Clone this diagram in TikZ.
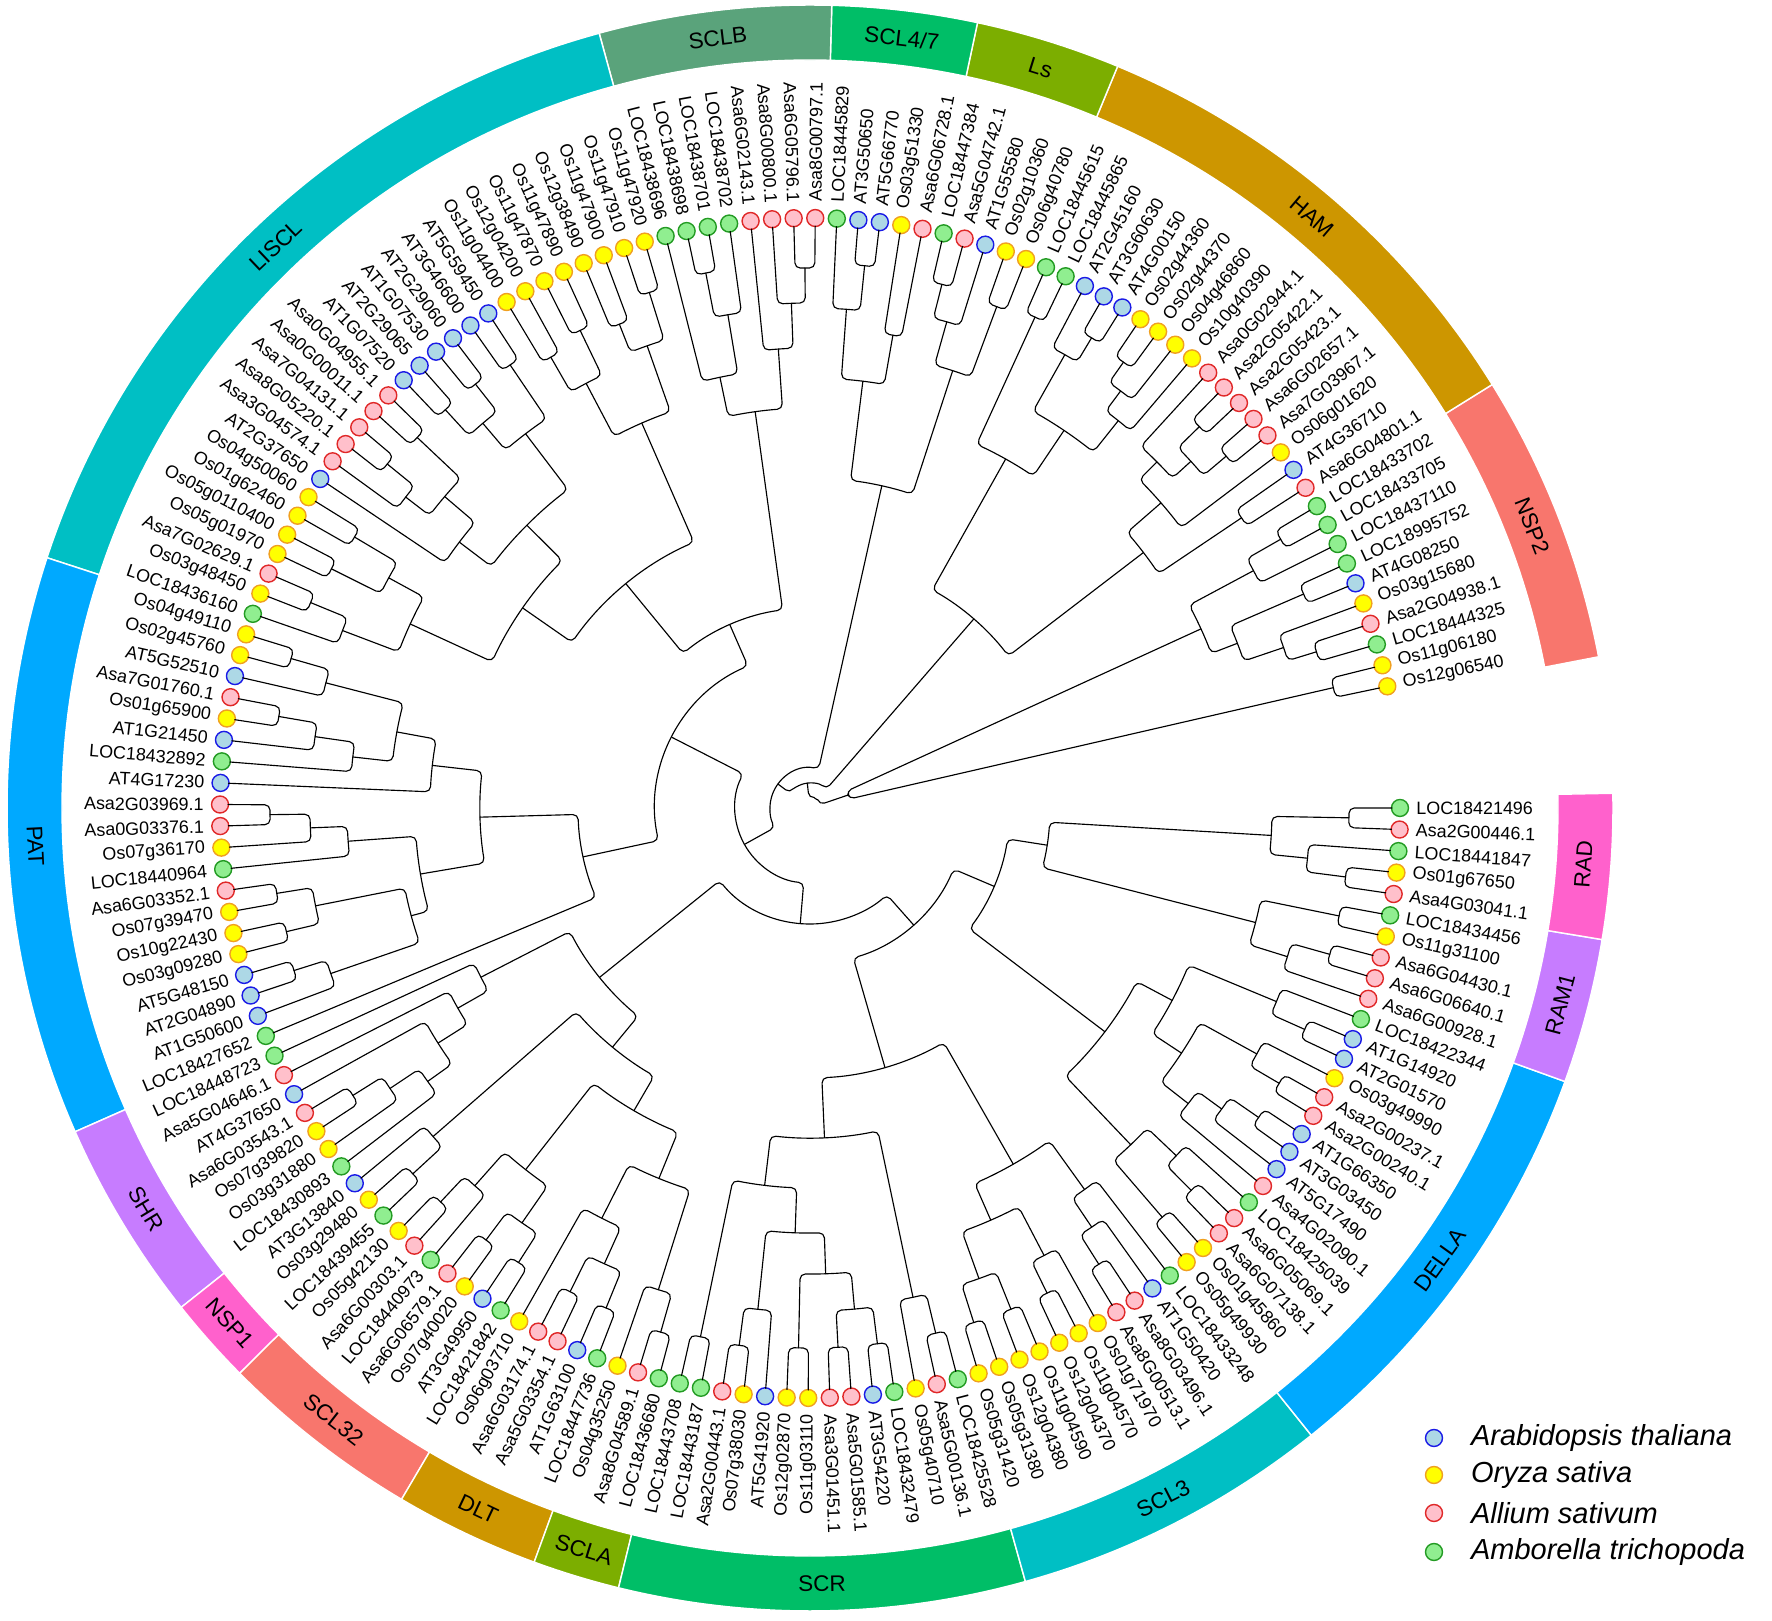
\documentclass[tikz,border=0pt]{standalone}
\usepackage{fontspec}
\setmainfont{Liberation Sans}
\usetikzlibrary{positioning}
\definecolor{athfill}{HTML}{ADD8E6}
\definecolor{athline}{HTML}{1A1AE6}
\definecolor{osafill}{HTML}{FFFF00}
\definecolor{osaline}{HTML}{F0A020}
\definecolor{asafill}{HTML}{FFC0CB}
\definecolor{asaline}{HTML}{E02828}
\definecolor{amtfill}{HTML}{90EE90}
\definecolor{amtline}{HTML}{239B23}
\definecolor{cRed}{HTML}{F8766D}
\definecolor{cGold}{HTML}{CD9600}
\definecolor{cLime}{HTML}{7CAE00}
\definecolor{cGreen}{HTML}{00BE67}
\definecolor{cSage}{HTML}{5AA37B}
\definecolor{cTeal}{HTML}{00BFC4}
\definecolor{cBlue}{HTML}{00A9FF}
\definecolor{cViolet}{HTML}{C77CFF}
\definecolor{cPink}{HTML}{FF61CC}
% join two children (name, child a, child b, radius)
\newcommand\tj[4]{%
  \pgfmathsetmacro\tja{\csname tA#2\endcsname}%
  \pgfmathsetmacro\tjb{\csname tA#3\endcsname}%
  \pgfmathsetmacro\tjra{\csname tR#2\endcsname}%
  \pgfmathsetmacro\tjrb{\csname tR#3\endcsname}%
  \pgfmathsetmacro\tjr{#4*0.02}%
  \draw[branch] (\tja:\tjra) -- (\tja:#4) arc[start angle=\tja, end angle=\tjb, radius=\tjr cm] -- (\tjb:\tjrb);%
  \pgfmathsetmacro\tjm{(\tja+\tjb)/2}%
  \expandafter\xdef\csname tA#1\endcsname{\tjm}%
  \expandafter\xdef\csname tR#1\endcsname{#4}}
% ring sector (first leaf, last leaf, colour, name, text)
\newcommand\band[5]{%
  \pgfmathsetmacro\ba{11.9+(#1-1.5)*2.097}%
  \pgfmathsetmacro\bb{11.9+(#2-0.5)*2.097}%
  \pgfmathsetmacro\bm{(\ba+\bb)/2}%
  \pgfmathsetmacro\brot{\bm<180 ? \bm-90 : \bm+90}%
  \fill[#3, draw=white, line width=0.8pt] (\ba:748) arc[start angle=\ba, end angle=\bb, radius=14.96cm]
    -- (\bb:803) arc[start angle=\bb, end angle=\ba, radius=16.06cm] -- cycle;%
  \node[bandtext, rotate=\brot] (#4) at (\bm:775.5) {#5};}
\begin{document}
\begin{tikzpicture}[x=0.02cm, y=0.02cm, line join=round, line cap=round,
    branch/.style={line width=0.65pt, rounded corners=3pt},
    leafdot/.style={circle, line width=0.8pt, minimum size=0.34cm, inner sep=0pt},
    ath/.style={fill=athfill, draw=athline},
    osa/.style={fill=osafill, draw=osaline},
    asa/.style={fill=asafill, draw=asaline},
    amt/.style={fill=amtfill, draw=amtline},
    leaftext/.style={inner sep=0pt, font=\fontsize{10.2}{12}\selectfont},
    bandtext/.style={inner sep=0pt, font=\fontsize{12.8}{15}\selectfont},
    legendtext/.style={inner sep=0pt, font=\fontsize{16.5}{20}\selectfont\itshape}]
\useasboundingbox (-810,-813) rectangle (962,808);

\band{1}{10}{cRed}{bNSPtwo}{NSP2}
\band{11}{27}{cGold}{bHAM}{HAM}
\band{28}{32}{cLime}{bLs}{Ls}
\band{33}{37}{cGreen}{bSCLfs}{SCL4/7}
\band{38}{45}{cSage}{bSCLB}{SCLB}
\band{46}{72}{cTeal}{bLISCL}{LISCL}
\band{73}{92}{cBlue}{bPAT}{PAT}
\band{93}{99}{cViolet}{bSHR}{SHR}
\band{100}{102}{cPink}{bNSPone}{NSP1}
\band{103}{109}{cRed}{bSCLtt}{SCL32}
\band{110}{114}{cGold}{bDLT}{DLT}
\band{115}{117}{cLime}{bSCLA}{SCLA}
\band{118}{131}{cGreen}{bSCR}{SCR}
\band{132}{142}{cTeal}{bSCLthree}{SCL3}
\band{143}{157}{cBlue}{bDELLA}{DELLA}
\band{158}{162}{cViolet}{bRAMone}{RAM1}
\band{163}{167}{cPink}{bRAD}{RAD}

\foreach \nm/\sp [count=\i] in {Os12g06540/osa, Os11g06180/osa, LOC18444325/amt, Asa2G04938.1/asa,
  Os03g15680/osa, AT4G08250/ath, LOC18995752/amt, LOC18437110/amt, LOC18433705/amt, LOC18433702/amt,
  Asa6G04801.1/asa, AT4G36710/ath, Os06g01620/osa, Asa7G03967.1/asa, Asa6G02657.1/asa, Asa2G05423.1/asa,
  Asa2G05422.1/asa, Asa0G02944.1/asa, Os10g40390/osa, Os04g46860/osa, Os02g44370/osa, Os02g44360/osa,
  AT4G00150/ath, AT3G60630/ath, AT2G45160/ath, LOC18445865/amt, LOC18445615/amt, Os06g40780/osa,
  Os02g10360/osa, AT1G55580/ath, Asa5G04742.1/asa, LOC18447384/amt, Asa6G06728.1/asa, Os03g51330/osa,
  AT5G66770/ath, AT3G50650/ath, LOC18445829/amt, Asa8G00797.1/asa, Asa6G05796.1/asa, Asa8G00800.1/asa,
  Asa6G02143.1/asa, LOC18438702/amt, LOC18438701/amt, LOC18438698/amt, LOC18438696/amt, Os11g47920/osa,
  Os11g47910/osa, Os11g47900/osa, Os12g38490/osa, Os11g47890/osa, Os11g47870/osa, Os12g04200/osa,
  Os11g04400/osa, AT5G59450/ath, AT3G46600/ath, AT2G29060/ath, AT1G07530/ath, AT2G29065/ath,
  AT1G07520/ath, Asa0G04955.1/asa, Asa0G00011.1/asa, Asa7G04131.1/asa, Asa8G05220.1/asa, Asa3G04574.1/asa,
  AT2G37650/ath, Os04g50060/osa, Os01g62460/osa, Os05g0110400/osa, Os05g01970/osa, Asa7G02629.1/asa,
  Os03g48450/osa, LOC18436160/amt, Os04g49110/osa, Os02g45760/osa, AT5G52510/ath, Asa7G01760.1/asa,
  Os01g65900/osa, AT1G21450/ath, LOC18432892/amt, AT4G17230/ath, Asa2G03969.1/asa, Asa0G03376.1/asa,
  Os07g36170/osa, LOC18440964/amt, Asa6G03352.1/asa, Os07g39470/osa, Os10g22430/osa, Os03g09280/osa,
  AT5G48150/ath, AT2G04890/ath, AT1G50600/ath, LOC18427652/amt, LOC18448723/amt, Asa5G04646.1/asa,
  AT4G37650/ath, Asa6G03543.1/asa, Os07g39820/osa, Os03g31880/osa, LOC18430893/amt, AT3G13840/ath,
  Os03g29480/osa, LOC18439455/amt, Os05g42130/osa, Asa6G00303.1/asa, LOC18440973/amt, Asa6G06579.1/asa,
  Os07g40020/osa, AT3G49950/ath, LOC18421842/amt, Os06g03710/osa, Asa6G03174.1/asa, Asa5G03354.1/asa,
  AT1G63100/ath, LOC18447736/amt, Os04g35250/osa, Asa8G04589.1/asa, LOC18436680/amt, LOC18443708/amt,
  LOC18443187/amt, Asa2G00443.1/asa, Os07g38030/osa, AT5G41920/ath, Os12g02870/osa, Os11g03110/osa,
  Asa3G01451.1/asa, Asa5G01585.1/asa, AT3G54220/ath, LOC18432479/amt, Os05g40710/osa, Asa5G00136.1/asa,
  LOC18425528/amt, Os05g31420/osa, Os05g31380/osa, Os12g04380/osa, Os11g04590/osa, Os12g04370/osa,
  Os11g04570/osa, Os01g71970/osa, Asa8G00513.1/asa, Asa8G03496.1/asa, AT1G50420/ath, LOC18433248/amt,
  Os05g49930/osa, Os01g45860/osa, Asa6G07138.1/asa, Asa6G05069.1/asa, LOC18425039/amt, Asa4G02090.1/asa,
  AT5G17490/ath, AT3G03450/ath, AT1G66350/ath, Asa2G00240.1/asa, Asa2G00237.1/asa, Os03g49990/osa,
  AT2G01570/ath, AT1G14920/ath, LOC18422344/amt, Asa6G00928.1/asa, Asa6G06640.1/asa, Asa6G04430.1/asa,
  Os11g31100/osa, LOC18434456/amt, Asa4G03041.1/asa, Os01g67650/osa, LOC18441847/amt, Asa2G00446.1/asa,
  LOC18421496/amt} {
  \pgfmathsetmacro\ang{11.9+(\i-1)*2.097}
  \expandafter\xdef\csname tA\i\endcsname{\ang}
  \expandafter\xdef\csname tR\i\endcsname{582}
  \node[leafdot, \sp] (d\i) at (\ang:590) {};
  \pgfmathtruncatemacro\flip{(\ang>90 && \ang<270) ? 1 : 0}
  \ifnum\flip=1
    \node[leaftext, anchor=east, rotate=\ang-180] (t\i) at (\ang:606) {\nm};
  \else
    \node[leaftext, anchor=west, rotate=\ang] (t\i) at (\ang:606) {\nm};
  \fi
}

% NSP2
\tj{p12}{1}{2}{537}
\tj{p34}{3}{4}{530}
\tj{q35}{p34}{5}{500}
\tj{p67}{6}{7}{538}
\tj{q37}{q35}{p67}{458}
\tj{p910}{9}{10}{542}
\tj{q810}{8}{p910}{503}
\tj{r310}{q37}{q810}{430}
% HAM
\tj{p1112}{11}{12}{520}
\tj{p1415}{14}{15}{545}
\tj{p1617}{16}{17}{545}
\tj{q1417}{p1415}{p1617}{515}
\tj{q1418}{q1417}{18}{490}
\tj{q1318}{13}{q1418}{465}
\tj{r1118}{p1112}{q1318}{420}
\tj{p2122}{21}{22}{545}
\tj{q2022}{20}{p2122}{520}
\tj{q1922}{19}{q2022}{495}
\tj{p2324}{23}{24}{548}
\tj{q2325}{p2324}{25}{520}
\tj{r1925}{q1922}{q2325}{455}
\tj{p2627}{26}{27}{540}
\tj{r1927}{r1925}{p2627}{400}
\tj{ham}{r1118}{r1927}{250}
% Ls, SCL4/7
\tj{p2829}{28}{29}{535}
\tj{p3132}{31}{32}{540}
\tj{q3032}{30}{p3132}{505}
\tj{ls}{p2829}{q3032}{460}
\tj{p3334}{33}{34}{480}
\tj{p3536}{35}{36}{545}
\tj{q3537}{p3536}{37}{500}
\tj{scl47}{p3334}{q3537}{430}
\tj{lsscl}{ls}{scl47}{330}
% SCLB
\tj{p3839}{38}{39}{540}
\tj{q3840}{p3839}{40}{505}
\tj{q3841}{q3840}{41}{460}
\tj{p4344}{43}{44}{545}
\tj{q4244}{42}{p4344}{500}
\tj{q4245}{q4244}{45}{440}
\tj{sclb}{q3841}{q4245}{400}
% LISCL
\tj{p4647}{46}{47}{540}
\tj{p4849}{48}{49}{520}
\tj{q4649}{p4647}{p4849}{490}
\tj{p5051}{50}{51}{530}
\tj{p5253}{52}{53}{520}
\tj{q5053}{p5051}{p5253}{480}
\tj{r4653}{q4649}{q5053}{420}
\tj{p5455}{54}{55}{535}
\tj{p5657}{56}{57}{540}
\tj{p5859}{58}{59}{540}
\tj{q5659}{p5657}{p5859}{505}
\tj{q5459}{p5455}{q5659}{470}
\tj{p6061}{60}{61}{540}
\tj{p6263}{62}{63}{545}
\tj{q6264}{p6263}{64}{510}
\tj{q6064}{p6061}{q6264}{480}
\tj{q6065}{q6064}{65}{440}
\tj{r5465}{q5459}{q6065}{400}
\tj{p6667}{66}{67}{530}
\tj{p6869}{68}{69}{535}
\tj{q6669}{p6667}{p6869}{480}
\tj{p7071}{70}{71}{540}
\tj{q7072}{p7071}{72}{500}
\tj{r6672}{q6669}{q7072}{440}
\tj{s5472}{r5465}{r6672}{350}
\tj{liscl}{r4653}{s5472}{290}
\tj{aone}{sclb}{liscl}{200}
% PAT
\tj{p7374}{73}{74}{540}
\tj{q7375}{p7374}{75}{500}
\tj{p7677}{76}{77}{539}
\tj{q7678}{p7677}{78}{500}
\tj{q7679}{q7678}{79}{460}
\tj{r7379}{q7375}{q7679}{420}
\tj{r7380}{r7379}{80}{380}
\tj{p8182}{81}{82}{540}
\tj{q8183}{p8182}{83}{500}
\tj{q8184}{q8183}{84}{463}
\tj{p8586}{85}{86}{540}
\tj{p8788}{87}{88}{538}
\tj{q8588}{p8586}{p8788}{504}
\tj{p8990}{89}{90}{541}
\tj{q8991}{p8990}{91}{507}
\tj{q8591}{q8588}{q8991}{413}
\tj{r8191}{q8184}{q8591}{395}
\tj{s7391}{r7380}{r8191}{330}
\tj{pat}{s7391}{92}{232}
\tj{atwo}{aone}{pat}{155}
% SHR, NSP1, SCL32, DLT, SCLA
\tj{p9697}{96}{97}{540}
\tj{q9698}{p9697}{98}{505}
\tj{q9699}{q9698}{99}{470}
\tj{q9599}{95}{q9699}{440}
\tj{q9499}{94}{q9599}{405}
\tj{shr}{93}{q9499}{370}
\tj{p101102}{101}{102}{540}
\tj{nspone}{100}{p101102}{500}
\tj{p103104}{103}{104}{540}
\tj{q103105}{p103104}{105}{505}
\tj{p106107}{106}{107}{540}
\tj{p108109}{108}{109}{540}
\tj{q106109}{p106107}{p108109}{505}
\tj{sclttwo}{q103105}{q106109}{460}
\tj{p111112}{111}{112}{540}
\tj{p113114}{113}{114}{540}
\tj{q111114}{p111112}{p113114}{500}
\tj{dlt}{110}{q111114}{460}
\tj{p116117}{116}{117}{545}
\tj{scla}{115}{p116117}{505}
\tj{bone}{dlt}{scla}{400}
\tj{btwo}{sclttwo}{bone}{350}
\tj{bthree}{nspone}{btwo}{310}
\tj{bfour}{shr}{bthree}{270}
% SCR, SCL3
\tj{p118119}{118}{119}{540}
\tj{p120121}{120}{121}{542}
\tj{q120122}{p120121}{122}{504}
\tj{p123124}{123}{124}{540}
\tj{p125126}{125}{126}{540}
\tj{p127128}{127}{128}{540}
\tj{q125128}{p125126}{p127128}{503}
\tj{q123128}{p123124}{q125128}{466}
\tj{r120128}{q120122}{q123128}{425}
\tj{s118128}{p118119}{r120128}{380}
\tj{p130131}{130}{131}{540}
\tj{q129131}{129}{p130131}{500}
\tj{scr}{s118128}{q129131}{330}
\tj{p132133}{132}{133}{540}
\tj{p134135}{134}{135}{540}
\tj{q132135}{p132133}{p134135}{500}
\tj{p136137}{136}{137}{540}
\tj{q136138}{p136137}{138}{505}
\tj{r132138}{q132135}{q136138}{450}
\tj{p139140}{139}{140}{540}
\tj{q139141}{p139140}{141}{505}
\tj{q139142}{q139141}{142}{470}
\tj{sclthree}{r132138}{q139142}{410}
% DELLA, RAM1, RAD
\tj{p143144}{143}{144}{540}
\tj{p145146}{145}{146}{540}
\tj{q145147}{p145146}{147}{505}
\tj{q143147}{p143144}{q145147}{465}
\tj{p150151}{150}{151}{545}
\tj{q149151}{149}{p150151}{510}
\tj{q148151}{148}{q149151}{480}
\tj{p152153}{152}{153}{544}
\tj{q152154}{p152153}{154}{510}
\tj{r148154}{q148151}{q152154}{445}
\tj{p155156}{155}{156}{542}
\tj{q155157}{p155156}{157}{505}
\tj{r148157}{r148154}{q155157}{410}
\tj{della}{q143147}{r148157}{370}
\tj{p159160}{159}{160}{540}
\tj{q158160}{158}{p159160}{500}
\tj{p161162}{161}{162}{540}
\tj{ramone}{q158160}{p161162}{460}
\tj{p163164}{163}{164}{540}
\tj{q163165}{p163164}{165}{500}
\tj{p166167}{166}{167}{539}
\tj{rad}{q163165}{p166167}{462}
% backbone
\tj{dzero}{ramone}{rad}{240}
\tj{done}{della}{dzero}{200}
\tj{dtwo}{scr}{sclthree}{270}
\tj{dthree}{dtwo}{done}{156}
\tj{eone}{bfour}{dthree}{116}
\tj{fone}{atwo}{eone}{75}
\tj{gone}{lsscl}{fone}{40}
\tj{hone}{ham}{gone}{25}
\tj{nsp}{p12}{r310}{40}
\tj{root}{nsp}{hone}{10}

\node[leafdot, ath] (legA) at (624,-630) {};
\node[leafdot, osa] (legO) at (624,-667) {};
\node[leafdot, asa] (legS) at (624,-705) {};
\node[leafdot, amt] (legM) at (624,-744) {};
\node[legendtext, right=0.55cm of legA] (txA) {Arabidopsis thaliana};
\node[legendtext, right=0.55cm of legO] (txO) {Oryza sativa};
\node[legendtext, right=0.55cm of legS] (txS) {Allium sativum};
\node[legendtext, right=0.55cm of legM] (txM) {Amborella trichopoda};
\end{tikzpicture}
\end{document}
